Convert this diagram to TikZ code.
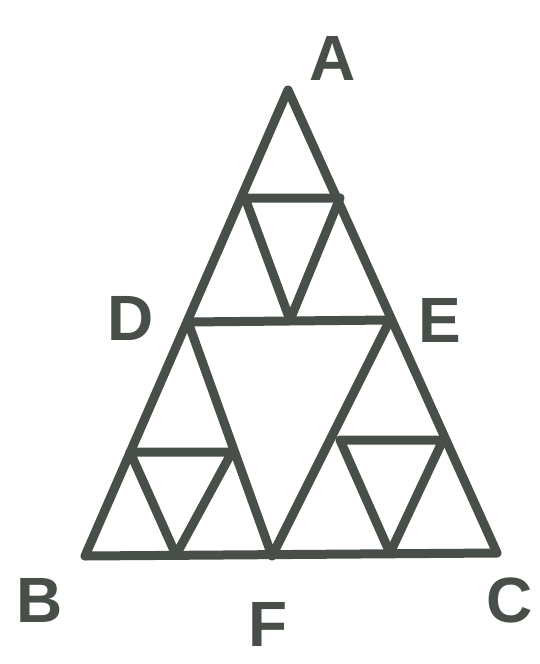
\documentclass[tikz,border=0pt]{standalone}
\usepackage{fontspec}
\setmainfont{Liberation Sans}
\usetikzlibrary{calc}
\definecolor{marker}{RGB}{72,78,72}
\tikzset{
  stroke/.style={draw=marker, line width=9pt, line join=round, line cap=round},
  letter/.style={text=marker, inner sep=0pt, font=\fontsize{64}{68}\selectfont\bfseries}
}

\begin{document}
\begin{tikzpicture}[x=1pt, y=-1pt]
    \useasboundingbox[fill=white](0,0)rectangle(539,664);
    % corners
    \coordinate(A)at(288,90);
    \coordinate(B)at(85,556);
    \coordinate(C)at(497,553);
    % midpoints
    \coordinate(D)at(188,322);
    \coordinate(E)at(390,320);
    \coordinate(F)at(272,556);
    % small triangles
    \coordinate(t1)at(245,198);
    \coordinate(t2)at(340,198);
    \coordinate(t3)at(290,320);
    \coordinate(l1)at(130,452);
    \coordinate(l2)at(232,452);
    \coordinate(l3)at(176,555);
    \coordinate(r1)at(340,440);
    \coordinate(r2)at(443,440);
    \coordinate(r3)at(390,553);
    % outer and middle
    \path[stroke](A)--(B)--(C)--cycle;
    \path[stroke](D)--(E)--(F)--cycle;
    \path[stroke](t1)--(t2)--(t3)--cycle;
    \path[stroke](l1)--(l2)--(l3)--cycle;
    \path[stroke](r1)--(r2)--(r3)--cycle;
    % labels
    \node[letter](labA)at(333,58){A};
    \node[letter](labB)at(40,600){B};
    \node[letter](labC)at(510,600){C};
    \node[letter](labD)at(131,318){D};
    \node[letter](labE)at(440,320){E};
    \node[letter](labF)at(268,624){F};
\end{tikzpicture}
\end{document}
